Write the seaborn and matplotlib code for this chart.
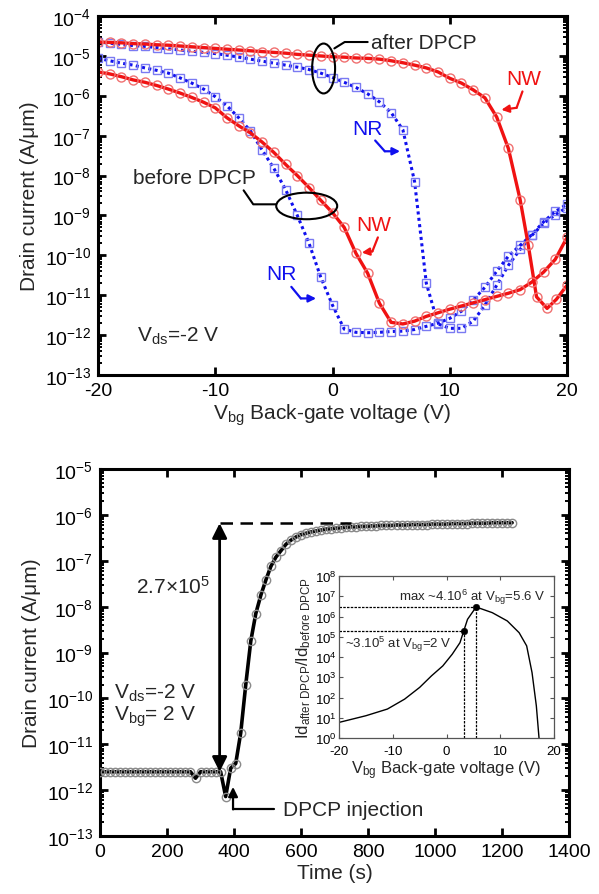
import numpy as np
import pandas as pd
import matplotlib
matplotlib.use("Agg")
import matplotlib.pyplot as plt
import seaborn as sns
from matplotlib.patches import Ellipse
from matplotlib.ticker import LogLocator, LogFormatterSciNotation, MultipleLocator, NullFormatter, FixedLocator

# ---------------- data (top panel: transfer curves, log10 of A/um) ----------------
vbg = list(range(-20, 21))

nw_after_x = list(range(-20, 17)) + [16.7, 17.4, 18.3, 19.1, 20]
nw_after_log = [-4.65, -4.66, -4.67, -4.69, -4.70, -4.72, -4.73, -4.75, -4.77, -4.79,
                -4.81, -4.83, -4.85, -4.87, -4.89, -4.91, -4.93, -4.96, -4.98, -5.00,
                -5.02, -5.03, -5.05, -5.06, -5.08, -5.12, -5.17, -5.23, -5.30, -5.40,
                -5.56, -5.68, -5.85, -6.05, -6.53, -7.32, -8.60,
                -9.75, -11.04, -11.33, -11.10, -10.75]

nw_before_log = [-5.40, -5.45, -5.52, -5.60, -5.66, -5.74, -5.83, -5.93, -6.04, -6.16,
                 -6.30, -6.55, -6.75, -6.93, -7.16, -7.42, -7.72, -8.00, -8.30, -8.62,
                 -8.93, -9.30, -9.95, -10.45, -11.20, -11.68, -11.72, -11.65, -11.53, -11.44,
                 -11.35, -11.27, -11.19, -11.11, -11.03, -10.95, -10.86, -10.67, -10.42, -10.10,
                 -9.55]

nr_after_log = [-4.65, -4.68, -4.71, -4.74, -4.76, -4.79, -4.82, -4.85, -4.88, -4.91,
                -4.94, -4.98, -5.03, -5.08, -5.13, -5.18, -5.23, -5.28, -5.34, -5.43,
                -5.54, -5.66, -5.79, -5.95, -6.15, -6.42, -6.85, -8.15, -10.70, -11.72,
                -11.83, -11.83, -11.65, -11.25, -10.75, -10.25, -9.85, -9.50, -9.20, -8.98,
                -8.80]

nr_before_log = [-5.06, -5.12, -5.18, -5.23, -5.30, -5.36, -5.43, -5.55, -5.68, -5.83,
                 -6.02, -6.25, -6.55, -6.88, -7.36, -7.82, -8.35, -9.00, -9.70, -10.55,
                 -11.25, -11.85, -11.93, -11.94, -11.93, -11.91, -11.90, -11.86, -11.78, -11.70,
                 -11.58, -11.40, -11.12, -10.80, -10.40, -10.02, -9.75, -9.48, -9.16, -8.90,
                 -8.72]

# ---------------- data (bottom panel: time response) ----------------
time_s = list(range(0, 1231, 15))
time_log = ([-11.60] * 19 + [-11.74] + [-11.60] * 5 +
            [-12.14, -11.52, -11.42, -10.75, -9.70, -8.75, -8.15, -7.75, -7.42, -7.12,
             -6.92, -6.78, -6.64, -6.55, -6.48, -6.43, -6.40, -6.37, -6.35, -6.33,
             -6.31, -6.30, -6.29, -6.28, -6.27, -6.26] +
            [-6.26, -6.25, -6.25, -6.24, -6.24, -6.23, -6.23, -6.23, -6.22, -6.22,
             -6.22, -6.21, -6.21, -6.21, -6.21, -6.20, -6.20, -6.20, -6.20, -6.19,
             -6.19, -6.19, -6.19, -6.18, -6.18, -6.18, -6.18, -6.17, -6.17, -6.17,
             -6.17, -6.17])

# ---------------- data (inset: ratio) ----------------
inset_v = [-20, -15, -11, -7.8, -5, -2.8, -0.7, 1.06, 2.5, 3.2, 3.9, 5.5, 8.5, 11.3, 13.5, 14.9, 15.9, 16.7, 17.2]
inset_log = [0.77, 1.10, 1.43, 1.92, 2.50, 3.07, 3.56, 4.14, 4.71, 5.29, 5.86, 6.47, 6.19, 5.78, 5.20, 4.55, 3.23, 1.59, 0.0]
dot_v = [3.2, 5.5]
dot_log = [5.29, 6.47]

# ---------------- style ----------------
sns.set_theme(style="ticks")
plt.rcParams["font.family"] = ["Liberation Sans", "DejaVu Sans"]
plt.rcParams["mathtext.fontset"] = "custom"
plt.rcParams["mathtext.rm"] = "Liberation Sans"
plt.rcParams["mathtext.it"] = "Liberation Sans:italic"
plt.rcParams["mathtext.bf"] = "Liberation Sans:bold"
plt.rcParams["mathtext.default"] = "regular"
plt.rcParams["axes.unicode_minus"] = False

RED = "#f01212"
RED_M = "#f07070"
BLUE = "#1010ee"
BLUE_M = "#7a7af2"

fig = plt.figure(figsize=(5.99, 8.95), dpi=100)
ax1 = fig.add_axes([0.1636, 0.5799, 0.783, 0.401])
ax2 = fig.add_axes([0.167, 0.0648, 0.783, 0.410])
axi = fig.add_axes([0.566, 0.1743, 0.359, 0.181])


def style_main(ax):
    for s in ax.spines.values():
        s.set_linewidth(2.2)
        s.set_color("black")
    ax.tick_params(which="both", direction="in", top=True, right=True, colors="black")
    ax.tick_params(which="major", length=6, width=2, labelsize=14, pad=5)
    ax.tick_params(which="minor", length=3, width=1.4)
    ax.yaxis.set_minor_locator(LogLocator(base=10, subs=np.arange(2, 10), numticks=50))
    ax.yaxis.set_minor_formatter(NullFormatter())
    ax.yaxis.set_major_formatter(LogFormatterSciNotation())


# ---------------- top panel ----------------
df_top = pd.DataFrame({"v": vbg, "nwb": 10.0 ** np.array(nw_before_log),
                       "nra": 10.0 ** np.array(nr_after_log), "nrb": 10.0 ** np.array(nr_before_log)})
df_nwa = pd.DataFrame({"v": nw_after_x, "i": 10.0 ** np.array(nw_after_log)})

blue_kw = dict(color=BLUE, lw=2.2, linestyle=(0, (1, 1.1)), marker="s", markersize=5.5,
               markerfacecolor="none", markeredgecolor=BLUE_M, markeredgewidth=1.0)
red_kw = dict(color=RED, lw=2.4, marker="o", markersize=6.5,
              markerfacecolor="none", markeredgecolor=RED_M, markeredgewidth=1.0)

sns.lineplot(data=df_top, x="v", y="nra", ax=ax1, **blue_kw)
sns.lineplot(data=df_top, x="v", y="nrb", ax=ax1, **blue_kw)
sns.lineplot(data=df_nwa, x="v", y="i", ax=ax1, **red_kw)
sns.lineplot(data=df_top, x="v", y="nwb", ax=ax1, **red_kw)

ax1.set_yscale("log")
ax1.set_xlim(-20, 20)
ax1.set_ylim(1e-13, 1e-4)
ax1.yaxis.set_major_locator(LogLocator(base=10, numticks=20))
style_main(ax1)
ax1.xaxis.set_major_locator(MultipleLocator(10))
ax1.set_xlabel(r"V$_{\rm bg}$ Back-gate voltage (V)", fontsize=15, labelpad=2)
ax1.set_ylabel("Drain current (A/\u03bcm)", fontsize=15, labelpad=4)

# ellipses + leader lines
ax1.add_patch(Ellipse((0.481, 0.854), 0.049, 0.139, transform=ax1.transAxes,
                      fill=False, lw=1.5, ec="black", zorder=5))
ax1.add_patch(Ellipse((0.445, 0.471), 0.13, 0.074, transform=ax1.transAxes,
                      fill=False, lw=1.5, ec="black", zorder=5))
ax1.plot([0.16, 1.04, 3.0], [10 ** -4.81, 10 ** -4.65, 10 ** -4.65], color="black", lw=1.5, zorder=5)
ax1.text(3.3, 10 ** -4.65, "after DPCP", fontsize=15, va="center", ha="left")
ax1.plot([-7.58, -6.76, -4.81], [10 ** -8.37, 10 ** -8.72, 10 ** -8.72], color="black", lw=1.5, zorder=5)
ax1.text(-11.74, 10 ** -8.05, "before DPCP", fontsize=15, va="center", ha="center")


def bent_arrow(ax, pts, color):
    xs = [p[0] for p in pts]
    ys = [10 ** p[1] for p in pts]
    ax.plot(xs[:-1], ys[:-1], color=color, lw=1.6, zorder=6)
    ax.annotate("", xy=(xs[-1], ys[-1]), xytext=(xs[-2], ys[-2]),
                arrowprops=dict(arrowstyle="-|>", color=color, lw=1.6, mutation_scale=11,
                                shrinkA=0, shrinkB=0), zorder=6)


ax1.text(3.0, 10 ** -6.81, "NR", color=BLUE, fontsize=15, ha="center", va="center")
bent_arrow(ax1, [(3.64, -7.12), (4.46, -7.39), (5.76, -7.39)], BLUE)
ax1.text(16.3, 10 ** -5.56, "NW", color=RED, fontsize=15, ha="center", va="center")
bent_arrow(ax1, [(16.2, -5.89), (15.7, -6.30), (14.4, -6.35)], RED)
ax1.text(3.48, 10 ** -9.22, "NW", color=RED, fontsize=15, ha="center", va="center")
bent_arrow(ax1, [(3.87, -9.55), (3.4, -9.90), (2.5, -9.93)], RED)
ax1.text(-4.33, 10 ** -10.46, "NR", color=BLUE, fontsize=15, ha="center", va="center")
bent_arrow(ax1, [(-3.51, -10.79), (-2.7, -11.08), (-1.4, -11.08)], BLUE)
ax1.text(-16.7, 10 ** -12.0, r"V$_{\rm ds}$=-2 V", fontsize=15, ha="left", va="center")

# ---------------- bottom panel ----------------
df_t = pd.DataFrame({"t": time_s, "i": 10.0 ** np.array(time_log)})
sns.lineplot(data=df_t, x="t", y="i", ax=ax2, color="black", lw=2.6, marker="o", markersize=6,
             markerfacecolor="none", markeredgecolor="#8a8a8a", markeredgewidth=1.0, zorder=3)
ax2.set_yscale("log")
ax2.set_xlim(0, 1400)
ax2.set_ylim(1e-13, 1e-5)
ax2.yaxis.set_major_locator(LogLocator(base=10, numticks=20))
style_main(ax2)
ax2.xaxis.set_major_locator(MultipleLocator(200))
ax2.set_xlabel("Time (s)", fontsize=15, labelpad=2)
ax2.set_ylabel("Drain current (A/\u03bcm)", fontsize=15, labelpad=4)

sat_level = 10 ** -6.18
base_level = 10 ** -11.6
ax2.plot([357, 750], [sat_level, sat_level], color="black", lw=1.8, linestyle=(0, (5, 3)), zorder=4)
ax2.annotate("", xy=(357, sat_level), xytext=(357, base_level),
             arrowprops=dict(arrowstyle="<|-|>", color="black", lw=2, mutation_scale=22,
                             shrinkA=0, shrinkB=0), zorder=5)
ax2.text(106, 10 ** -7.55, r"2.7$\times$10$^{5}$", fontsize=15, ha="left", va="center")
ax2.text(43, 10 ** -9.87, r"V$_{\rm ds}$=-2 V", fontsize=15, ha="left", va="center")
ax2.text(43, 10 ** -10.38, r"V$_{\rm bg}$= 2 V", fontsize=15, ha="left", va="center")
ax2.text(545, 10 ** -12.42, "DPCP injection", fontsize=15, ha="left", va="center")
ax2.plot([520, 397], [10 ** -12.42, 10 ** -12.42], color="black", lw=1.6, zorder=5)
ax2.annotate("", xy=(397, 10 ** -11.93), xytext=(397, 10 ** -12.42),
             arrowprops=dict(arrowstyle="-|>", color="black", lw=1.6, mutation_scale=14,
                             shrinkA=0, shrinkB=0), zorder=5)

# ---------------- inset ----------------
df_in = pd.DataFrame({"v": inset_v, "r": 10.0 ** np.array(inset_log)})
sns.lineplot(data=df_in, x="v", y="r", ax=axi, color="black", lw=1.0)
axi.set_yscale("log")
axi.set_xlim(-20, 20)
axi.set_ylim(1, 1e8)
for s in axi.spines.values():
    s.set_linewidth(0.9)
    s.set_color("#555555")
axi.tick_params(which="both", direction="in", top=True, right=True, colors="#555555",
                labelcolor="black", labelsize=9.5, length=3, width=0.8, pad=2)
axi.tick_params(axis="x", pad=5)
axi.tick_params(which="minor", length=0)
axi.yaxis.set_major_locator(FixedLocator([10.0 ** k for k in range(0, 9)]))
axi.yaxis.set_major_formatter(LogFormatterSciNotation())
axi.yaxis.set_minor_formatter(NullFormatter())
axi.xaxis.set_major_locator(MultipleLocator(10))
axi.set_xlabel(r"V$_{\rm bg}$ Back-gate voltage (V)", fontsize=12, labelpad=1)
axi.set_ylabel(r"Id$_{\rm after\ DPCP}$/Id$_{\rm before\ DPCP}$", fontsize=12, labelpad=1)

dot_r = [10 ** d for d in dot_log]
sns.scatterplot(x=dot_v, y=dot_r, ax=axi, color="black", s=22, edgecolor="black", zorder=6)
for v, r in zip(dot_v, dot_r):
    axi.plot([-20, v], [r, r], color="black", lw=0.9, linestyle=(0, (2, 1)))
    axi.plot([v, v], [1, r], color="black", lw=0.9, linestyle=(0, (2, 1)))
axi.text(-8.9, 10 ** 7.01, r"max ~4.10$^{6}$ at V$_{\rm bg}$=5.6 V", fontsize=9.5, ha="left", va="center")
axi.text(-18.8, 10 ** 4.68, r"~3.10$^{5}$ at V$_{\rm bg}$=2 V", fontsize=9.5, ha="left", va="center")

fig.savefig("out.png", dpi=100)
